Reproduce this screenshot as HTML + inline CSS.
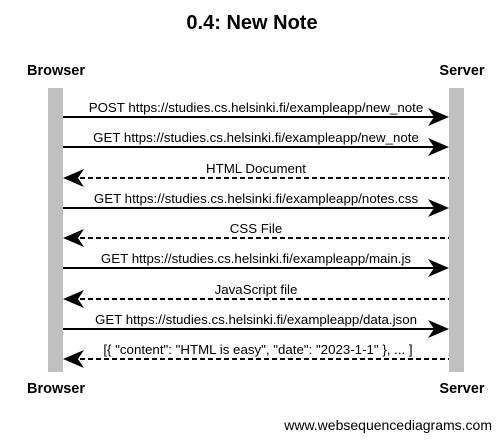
<!DOCTYPE html>
<html><head><style>html,body{margin:0;padding:0;background:#fff}</style></head>
<body>
<svg width="504" height="440" xmlns="http://www.w3.org/2000/svg" font-family="Liberation Sans, Arial, sans-serif">
<rect width="504" height="440" fill="#fff"/>
<text x="252" y="29" text-anchor="middle" font-size="20" font-weight="bold">0.4: New Note</text>
<text x="56" y="75" text-anchor="middle" font-size="14.5" font-weight="bold">Browser</text>
<text x="462" y="75" text-anchor="middle" font-size="14.5" font-weight="bold">Server</text>
<text x="56" y="393" text-anchor="middle" font-size="14.5" font-weight="bold">Browser</text>
<text x="462" y="393" text-anchor="middle" font-size="14.5" font-weight="bold">Server</text>
<rect x="48" y="88" width="15" height="284" fill="#c0c0c0"/>
<rect x="449" y="88" width="15" height="284" fill="#c0c0c0"/>
<g stroke="#000" stroke-width="2" fill="none">
<line x1="63" y1="117" x2="440" y2="117"/>
<line x1="63" y1="147" x2="440" y2="147"/>
<line x1="72" y1="178" x2="449" y2="178" stroke-dasharray="5,3"/>
<line x1="63" y1="208" x2="440" y2="208"/>
<line x1="72" y1="238" x2="449" y2="238" stroke-dasharray="5,3"/>
<line x1="63" y1="268" x2="440" y2="268"/>
<line x1="72" y1="299" x2="449" y2="299" stroke-dasharray="5,3"/>
<line x1="63" y1="329" x2="440" y2="329"/>
<line x1="72" y1="359" x2="449" y2="359" stroke-dasharray="5,3"/>
</g>
<g fill="#000">
<path d="M449 117 L428 108 L434 117 L428 126 Z"/>
<path d="M449 147 L428 138 L434 147 L428 156 Z"/>
<path d="M449 208 L428 199 L434 208 L428 217 Z"/>
<path d="M449 268 L428 259 L434 268 L428 277 Z"/>
<path d="M449 329 L428 320 L434 329 L428 338 Z"/>
<path d="M63 178 L84 169 L78 178 L84 187 Z"/>
<path d="M63 238 L84 229 L78 238 L84 247 Z"/>
<path d="M63 299 L84 290 L78 299 L84 308 Z"/>
<path d="M63 359 L84 350 L78 359 L84 368 Z"/>
</g>
<g font-size="13.3" text-anchor="middle">
<text x="256" y="112">POST https://studies.cs.helsinki.fi/exampleapp/new_note</text>
<text x="256" y="142">GET https://studies.cs.helsinki.fi/exampleapp/new_note</text>
<text x="256" y="173">HTML Document</text>
<text x="256" y="203">GET https://studies.cs.helsinki.fi/exampleapp/notes.css</text>
<text x="256" y="233">CSS File</text>
<text x="256" y="263">GET https://studies.cs.helsinki.fi/exampleapp/main.js</text>
<text x="256" y="294">JavaScript file</text>
<text x="256" y="324">GET https://studies.cs.helsinki.fi/exampleapp/data.json</text>
<text x="258" y="354">[{ "content": "HTML is easy", "date": "2023-1-1" }, ... ]</text>
</g>
<text x="492" y="430" text-anchor="end" font-size="14">www.websequencediagrams.com</text>
</svg>
</body></html>
